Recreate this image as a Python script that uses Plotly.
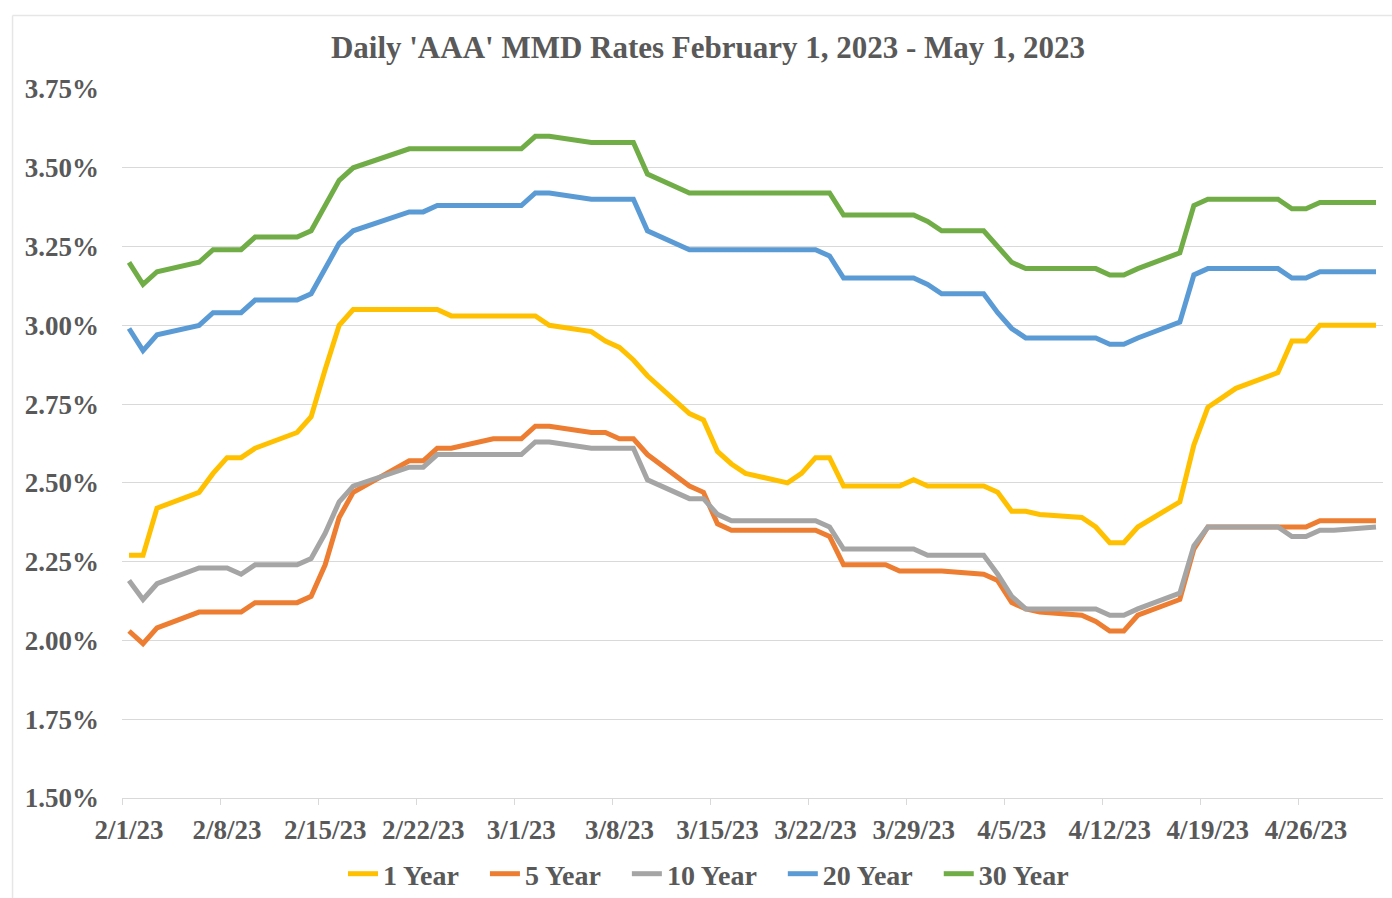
import plotly.graph_objects as go
import pandas as pd

dates = (
    ["2023-02-%02d" % d for d in [1, 2, 3, 6, 7, 8, 9, 10, 13, 14, 15, 16, 17, 21, 22, 23, 24, 27, 28]]
    + ["2023-03-%02d" % d for d in [1, 2, 3, 6, 7, 8, 9, 10, 13, 14, 15, 16, 17, 20, 21, 22, 23, 24, 27, 28, 29, 30, 31]]
    + ["2023-04-%02d" % d for d in [3, 4, 5, 6, 7, 10, 11, 12, 13, 14, 17, 18, 19, 20, 21, 24, 25, 26, 27, 28]]
    + ["2023-05-01"]
)

y1 = [2.27, 2.27, 2.42, 2.47, 2.53, 2.58, 2.58, 2.61, 2.66, 2.71, 2.86, 3.00, 3.05, 3.05, 3.05, 3.05, 3.03, 3.03, 3.03,
      3.03, 3.03, 3.00, 2.98, 2.95, 2.93, 2.89, 2.84, 2.72, 2.70, 2.60, 2.56, 2.53, 2.50, 2.53, 2.58, 2.58, 2.49, 2.49, 2.49, 2.51, 2.49, 2.49,
      2.49, 2.47, 2.41, 2.41, 2.40, 2.39, 2.36, 2.31, 2.31, 2.36, 2.44, 2.62, 2.74, 2.77, 2.80, 2.85, 2.95, 2.95, 3.00, 3.00,
      3.00]
y5 = [2.03, 1.99, 2.04, 2.09, 2.09, 2.09, 2.09, 2.12, 2.12, 2.14, 2.24, 2.39, 2.47, 2.57, 2.57, 2.61, 2.61, 2.64, 2.64,
      2.64, 2.68, 2.68, 2.66, 2.66, 2.64, 2.64, 2.59, 2.49, 2.47, 2.37, 2.35, 2.35, 2.35, 2.35, 2.35, 2.33, 2.24, 2.24, 2.22, 2.22, 2.22, 2.22,
      2.21, 2.19, 2.12, 2.10, 2.09, 2.08, 2.06, 2.03, 2.03, 2.08, 2.13, 2.29, 2.36, 2.36, 2.36, 2.36, 2.36, 2.36, 2.38, 2.38,
      2.38]
y10 = [2.19, 2.13, 2.18, 2.23, 2.23, 2.23, 2.21, 2.24, 2.24, 2.26, 2.34, 2.44, 2.49, 2.55, 2.55, 2.59, 2.59, 2.59, 2.59,
       2.59, 2.63, 2.63, 2.61, 2.61, 2.61, 2.61, 2.51, 2.45, 2.45, 2.40, 2.38, 2.38, 2.38, 2.38, 2.38, 2.36, 2.29, 2.29, 2.29, 2.29, 2.27, 2.27,
       2.27, 2.21, 2.14, 2.10, 2.10, 2.10, 2.10, 2.08, 2.08, 2.10, 2.15, 2.30, 2.36, 2.36, 2.36, 2.36, 2.33, 2.33, 2.35, 2.35,
       2.36]
y20 = [2.99, 2.92, 2.97, 3.00, 3.04, 3.04, 3.04, 3.08, 3.08, 3.10, 3.18, 3.26, 3.30, 3.36, 3.36, 3.38, 3.38, 3.38, 3.38,
       3.38, 3.42, 3.42, 3.40, 3.40, 3.40, 3.40, 3.30, 3.24, 3.24, 3.24, 3.24, 3.24, 3.24, 3.24, 3.24, 3.22, 3.15, 3.15, 3.15, 3.15, 3.13, 3.10,
       3.10, 3.04, 2.99, 2.96, 2.96, 2.96, 2.96, 2.94, 2.94, 2.96, 3.01, 3.16, 3.18, 3.18, 3.18, 3.18, 3.15, 3.15, 3.17, 3.17,
       3.17]
y30 = [3.20, 3.13, 3.17, 3.20, 3.24, 3.24, 3.24, 3.28, 3.28, 3.30, 3.38, 3.46, 3.50, 3.56, 3.56, 3.56, 3.56, 3.56, 3.56,
       3.56, 3.60, 3.60, 3.58, 3.58, 3.58, 3.58, 3.48, 3.42, 3.42, 3.42, 3.42, 3.42, 3.42, 3.42, 3.42, 3.42, 3.35, 3.35, 3.35, 3.35, 3.33, 3.30,
       3.30, 3.25, 3.20, 3.18, 3.18, 3.18, 3.18, 3.16, 3.16, 3.18, 3.23, 3.38, 3.40, 3.40, 3.40, 3.40, 3.37, 3.37, 3.39, 3.39,
       3.39]

series_names = ["1 Year", "5 Year", "10 Year", "20 Year", "30 Year"]
series_values = [y1, y5, y10, y20, y30]
colors = ["#FFC000", "#ED7D31", "#A5A5A5", "#5B9BD5", "#70AD47"]

tick_dates = ["2023-02-01", "2023-02-08", "2023-02-15", "2023-02-22", "2023-03-01", "2023-03-08", "2023-03-15",
              "2023-03-22", "2023-03-29", "2023-04-05", "2023-04-12", "2023-04-19", "2023-04-26"]
tick_labels = ["2/1/23", "2/8/23", "2/15/23", "2/22/23", "3/1/23", "3/8/23", "3/15/23",
               "3/22/23", "3/29/23", "4/5/23", "4/12/23", "4/19/23", "4/26/23"]
y_ticks = [1.50, 1.75, 2.00, 2.25, 2.50, 2.75, 3.00, 3.25, 3.50, 3.75]

x = pd.to_datetime(dates)
half = pd.Timedelta(hours=12)
x_min = pd.Timestamp("2023-02-01") - half
x_max = pd.Timestamp("2023-05-01") + half

FONT = "Liberation Serif"
GREY = "#595959"

fig = go.Figure()
for name, vals, c in zip(series_names, series_values, colors):
    fig.add_trace(go.Scatter(x=x, y=vals, name=name + "&nbsp;&nbsp;&nbsp;", mode="lines",
                             line=dict(color=c, width=5)))

# invisible trace on secondary x-axis for tick marks at day boundaries
fig.add_trace(go.Scatter(x=[x_min, x_max], y=[1.5, 1.5], xaxis="x2", mode="lines",
                         line=dict(width=0), showlegend=False, hoverinfo="skip"))

# chart-area border: only the top and left edges fall inside the page
border = dict(color="#E6E6E6", width=1.5)
fig.add_shape(type="line", xref="paper", yref="paper", x0=-0.0868, x1=1.2, y0=1.1037, y1=1.1037,
              line=border, layer="below")
fig.add_shape(type="line", xref="paper", yref="paper", x0=-0.0868, x1=-0.0868, y0=-0.2, y1=1.1037,
              line=border, layer="below")

fig.update_layout(
    width=1392, height=898,
    paper_bgcolor="white", plot_bgcolor="white",
    margin=dict(l=122, r=9, t=89, b=100, autoexpand=False),
    title=dict(text="<b>Daily 'AAA' MMD Rates February 1, 2023 - May 1, 2023</b>",
               x=708 / 1392, xanchor="center", y=1 - 47 / 898, yanchor="middle",
               font=dict(family=FONT, size=31, color=GREY), automargin=False),
    xaxis=dict(type="date", range=[x_min, x_max], tickvals=pd.to_datetime(tick_dates), ticktext=tick_labels,
               showgrid=False, showline=True, linecolor="#D9D9D9", linewidth=1,
               ticks="", ticklabelstandoff=8, automargin=False,
               tickfont=dict(family=FONT, size=27, color=GREY, weight="bold"), zeroline=False),
    xaxis2=dict(type="date", range=[x_min, x_max], overlaying="x", anchor="y",
                tickvals=pd.to_datetime(tick_dates) - half, showticklabels=False,
                ticks="outside", ticklen=6, tickcolor="#D9D9D9", tickwidth=1, automargin=False,
                showgrid=False, showline=False, zeroline=False, side="bottom"),
    yaxis=dict(range=[1.5, 3.75], tickvals=y_ticks, ticktext=["%.2f%%" % v for v in y_ticks],
               showgrid=True, gridcolor="#D9D9D9", gridwidth=1, zeroline=False, showline=False,
               ticks="", ticklabelstandoff=22, automargin=False,
               tickfont=dict(family=FONT, size=27, color=GREY, weight="bold")),
    legend=dict(orientation="h", x=(719 - 122) / 1261, xanchor="center", y=-76 / 709, yanchor="middle",
                font=dict(family=FONT, size=28, color=GREY, weight="bold"),
                itemwidth=30, tracegroupgap=0),
    showlegend=True,
)

fig.write_html("out.html", config={"displayModeBar": False},
               post_script="document.body.style.margin='0px';")
